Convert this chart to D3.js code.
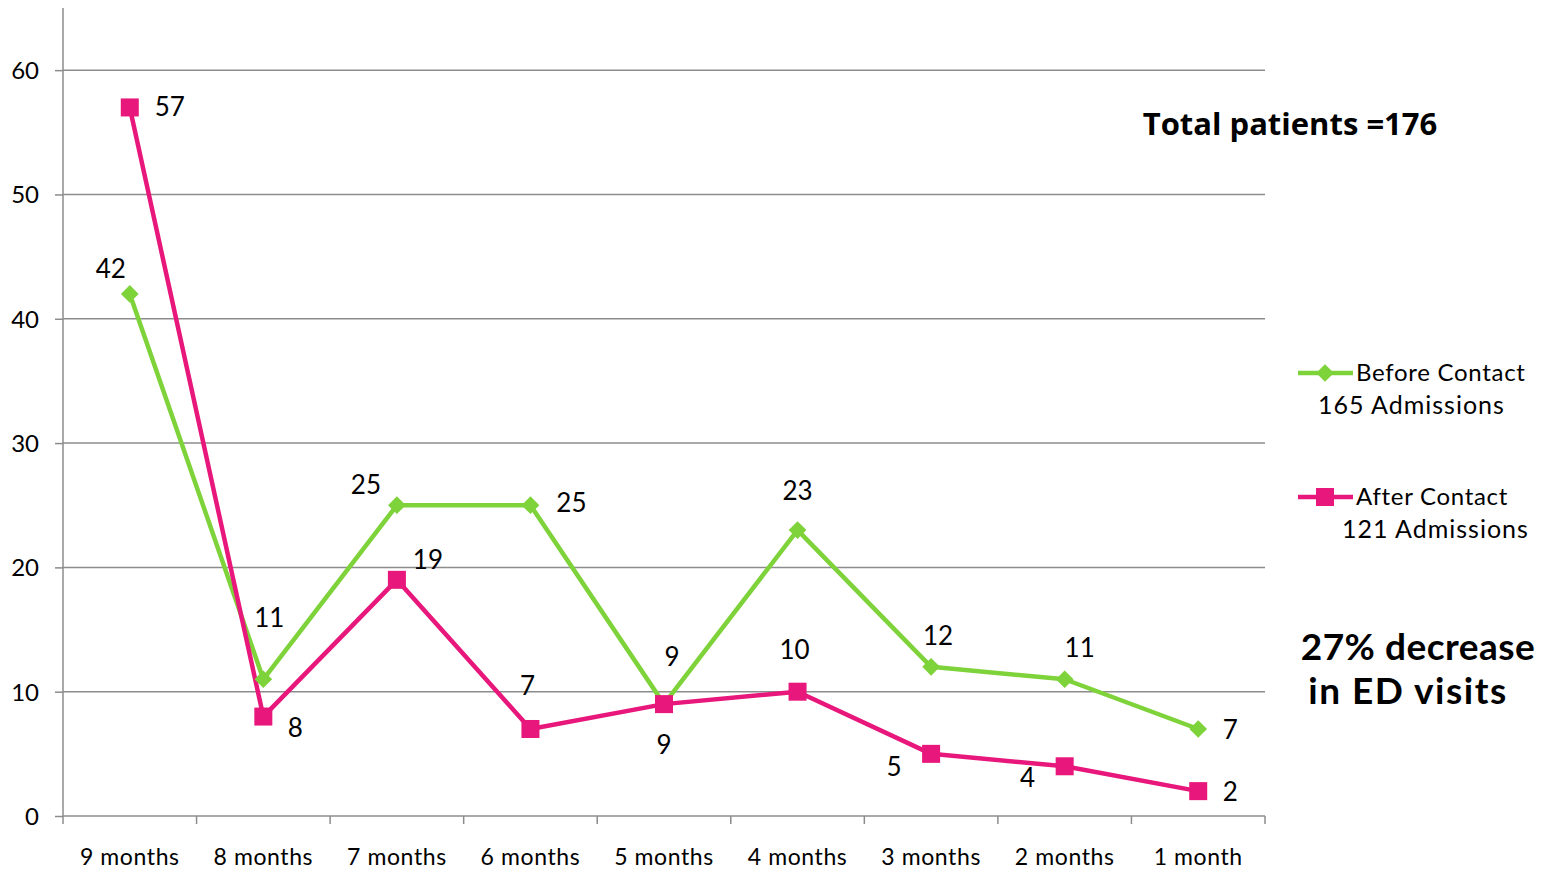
<!DOCTYPE html>
<html>
<head>
<meta charset="utf-8">
<script src="https://cdn.jsdelivr.net/npm/d3@7/dist/d3.min.js"></script>
<style>
  html, body { margin: 0; padding: 0; background: #fff; }
  svg { display: block; font-family: "Lato", "Open Sans", sans-serif; }
</style>
</head>
<body>
<svg id="chart" width="1550" height="870"></svg>
<script>
// ED visits per month, before and after contact
const categories = ["9 months", "8 months", "7 months", "6 months", "5 months",
                    "4 months", "3 months", "2 months", "1 month"];
const beforeValues = [42, 11, 25, 25, 9, 23, 12, 11, 7];
const afterValues  = [57, 8, 19, 7, 9, 10, 5, 4, 2];
const yTicks = [0, 10, 20, 30, 40, 50, 60];

// value label nudges [dx, dy] from each point, so labels avoid the lines
const beforeLabelNudge = [[-19, -16], [6, -52], [-31, -11], [41, 7], [8, -38],
                          [0, -30], [7, -22], [15, -22], [32, 10]];
const afterLabelNudge  = [[40, 9], [32, 20], [31, -11], [-3, -34], [0, 50],
                          [-3, -33], [-37, 22], [-37, 21], [32, 10]];

const GREEN = "#7ed23a";
const PINK = "#e8177b";
const GRID = "#8c8c8c";

const svg = d3.select("#chart");
const margin = { left: 63, right: 285, top: 8, bottom: 54 };
const W = 1550, H = 870;

const x = d3.scaleBand().domain(categories).range([margin.left, W - margin.right]);
const y = d3.scaleLinear().domain([0, 65]).range([H - margin.bottom, margin.top]);

// horizontal gridlines
svg.append("g")
  .selectAll("line")
  .data(yTicks.filter(d => d > 0))
  .join("line")
  .attr("x1", margin.left).attr("x2", W - margin.right)
  .attr("y1", d => y(d)).attr("y2", d => y(d))
  .attr("stroke", GRID).attr("stroke-width", 1.5);

// y axis
const yAxis = svg.append("g")
  .attr("transform", `translate(${margin.left},0)`)
  .call(d3.axisLeft(y).tickValues(yTicks).tickSize(8).tickPadding(16).tickFormat(d3.format("d")));
yAxis.select(".domain").attr("stroke", GRID).attr("stroke-width", 1.5)
  .attr("d", `M0,${y(65)}V${y(0)}`);
yAxis.selectAll(".tick line").attr("stroke", GRID).attr("stroke-width", 1.5);
yAxis.selectAll("text").attr("font-size", 24).attr("fill", "#000")
  .attr("font-family", "Lato, sans-serif").attr("dy", "0.35em");

// x axis with ticks between categories
const xAxisG = svg.append("g").attr("transform", `translate(0,${y(0)})`);
xAxisG.append("line")
  .attr("x1", margin.left).attr("x2", W - margin.right)
  .attr("stroke", GRID).attr("stroke-width", 1.5);
const boundaries = categories.map(c => x(c)).concat([x(categories[categories.length - 1]) + x.bandwidth()]);
xAxisG.selectAll("line.tk")
  .data(boundaries)
  .join("line").attr("class", "tk")
  .attr("x1", d => d).attr("x2", d => d)
  .attr("y1", 0).attr("y2", 8)
  .attr("stroke", GRID).attr("stroke-width", 1.5);
xAxisG.selectAll("text")
  .data(categories)
  .join("text")
  .attr("x", d => x(d) + x.bandwidth() / 2)
  .attr("y", 49)
  .attr("text-anchor", "middle")
  .attr("font-size", 23)
  .attr("letter-spacing", 0.6)
  .text(d => d);

const cx = c => x(c) + x.bandwidth() / 2;
const line = d3.line().x((d, i) => cx(categories[i])).y(d => y(d));

// series lines
svg.append("path").datum(beforeValues)
  .attr("d", line).attr("fill", "none").attr("stroke", GREEN).attr("stroke-width", 4.5)
  .attr("stroke-linejoin", "round");
svg.append("path").datum(afterValues)
  .attr("d", line).attr("fill", "none").attr("stroke", PINK).attr("stroke-width", 4.5)
  .attr("stroke-linejoin", "round");

// markers
const diamond = d3.symbol().type(d3.symbolDiamond2).size(200);
svg.append("g").selectAll("path")
  .data(beforeValues)
  .join("path")
  .attr("d", diamond)
  .attr("transform", (d, i) => `translate(${cx(categories[i])},${y(d)})`)
  .attr("fill", GREEN);
svg.append("g").selectAll("rect")
  .data(afterValues)
  .join("rect")
  .attr("x", (d, i) => cx(categories[i]) - 9)
  .attr("y", d => y(d) - 9)
  .attr("width", 18).attr("height", 18)
  .attr("fill", PINK);

// value labels
function drawLabels(values, nudges) {
  svg.append("g").selectAll("text")
    .data(values)
    .join("text")
    .attr("x", (d, i) => cx(categories[i]) + nudges[i][0])
    .attr("y", (d, i) => y(d) + nudges[i][1])
    .attr("text-anchor", "middle")
    .attr("font-size", 26)
    .attr("fill", "#000")
    .text(d => d);
}
drawLabels(beforeValues, beforeLabelNudge);
drawLabels(afterValues, afterLabelNudge);

// legend
const legend = svg.append("g");
function legendItem(yPos, color, isDiamond, line1, line2, line2x) {
  legend.append("line").attr("x1", 1298).attr("x2", 1353).attr("y1", yPos).attr("y2", yPos)
    .attr("stroke", color).attr("stroke-width", 4.5);
  if (isDiamond) {
    legend.append("path").attr("d", diamond).attr("transform", `translate(1325,${yPos})`).attr("fill", color);
  } else {
    legend.append("rect").attr("x", 1316).attr("y", yPos - 9).attr("width", 18).attr("height", 18).attr("fill", color);
  }
  legend.append("text").attr("x", 1356).attr("y", yPos + 8).attr("font-size", 24)
    .attr("letter-spacing", 0.7).text(line1);
  legend.append("text").attr("x", line2x).attr("y", yPos + 41).attr("font-size", 25)
    .attr("letter-spacing", 1).text(line2);
}
legendItem(373, GREEN, true, "Before Contact", "165 Admissions", 1318);
legendItem(497, PINK, false, "After Contact", "121 Admissions", 1342);

// annotations
svg.append("text").attr("x", 1290).attr("y", 135).attr("text-anchor", "middle")
  .attr("font-size", 31).attr("font-weight", "bold").attr("font-family", "'Open Sans', sans-serif")
  .text("Total patients =176");
svg.append("text").attr("x", 1418).attr("y", 660).attr("text-anchor", "middle")
  .attr("font-size", 37).attr("font-weight", "bold").attr("letter-spacing", 0.5)
  .text("27% decrease");
svg.append("text").attr("x", 1408).attr("y", 704).attr("text-anchor", "middle")
  .attr("font-size", 37).attr("font-weight", "bold").attr("letter-spacing", 1.5)
  .text("in ED visits");
</script>
</body>
</html>
